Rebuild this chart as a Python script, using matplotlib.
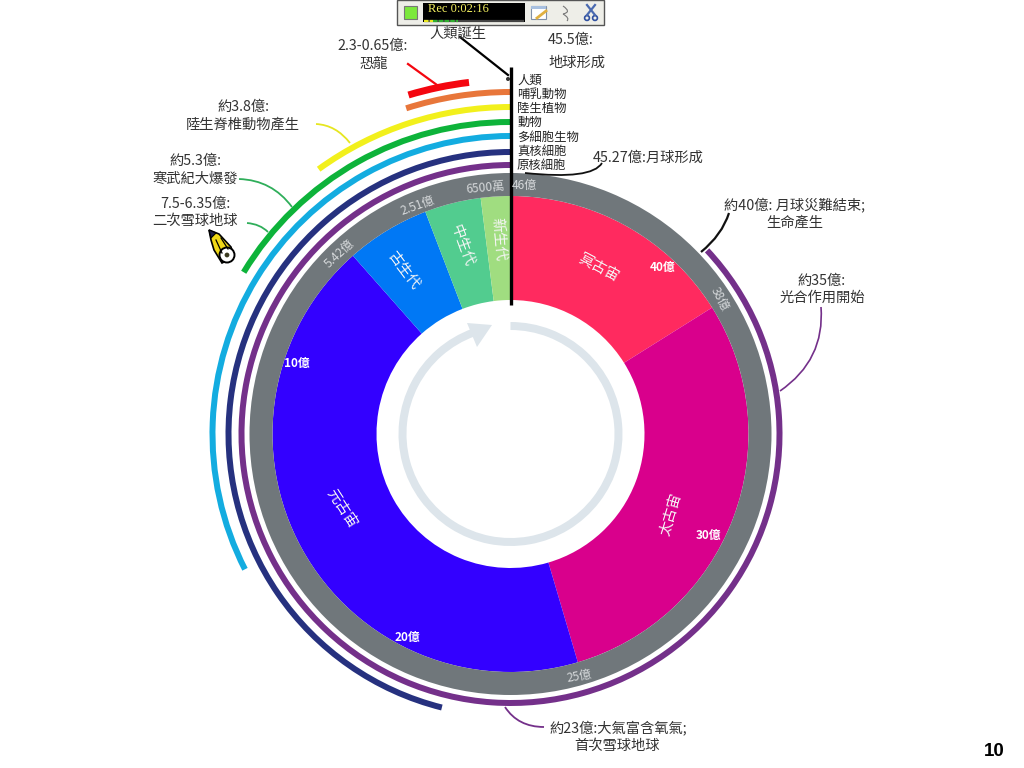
import numpy as np
import matplotlib
matplotlib.use("Agg")
import matplotlib.pyplot as plt
from matplotlib.path import Path
from matplotlib.patches import PathPatch, Polygon, Circle, Rectangle

plt.rcParams["font.family"] = ["Noto Sans CJK TC", "DejaVu Sans"]

TOTAL = 46.0  # the dial runs 46 -> 0 (100 million years ago)

# Eras
era_names = ["冥古宙", "太古宙", "元古宙", "古生代", "中生代", "新生代"]
era_start = [46.0, 38.6, 25.1, 5.3, 2.68, 0.92]
era_end = [38.6, 25.1, 5.3, 2.68, 0.92, 0.0]
era_colors = ["#FF2A5F", "#D9008C", "#3300FF", "#0078F5", "#52CC8F", "#A0DD80"]

# Life arcs, outside the grey ring
life_names = ["人類", "哺乳動物", "陸生植物", "動物", "多細胞生物", "真核細胞", "原核細胞"]
arc_start = [2.27, 4.59, 7.51, 14.95, 21.2, 40.0]
arc_end = [0.0, 0.0, 0.0, 0.0, 0.0, 0.0]
arc_radius = [342, 327, 312, 298, 282, 269]
arc_colors = ["#E8763A", "#F2F01C", "#0DB33A", "#13ACE0", "#26317F", "#74308A"]

# Dinosaurs
dino_start = 2.14
dino_end = 0.86

# Text on the ring and on the wedges
ring_labels = ["46億", "6500萬", "2.51億", "5.42億", "38億", "25億"]
ring_x = [524, 485, 418, 340, 720, 579]
ring_y = [185, 188, 206, 254, 299, 676]
ring_rot = [0, 5, 20, 43, -62, 10]
age_labels = ["40億", "30億", "20億", "10億"]
age_x = [663, 708, 407, 297]
age_y = [268, 535, 637, 364]
era_x = [598, 672, 342, 403, 462, 498]
era_y = [269, 514, 509, 271, 246, 239]
era_rot = [-28, 73, -57, -53, -70, -85]

# Event notes
notes = [
    "2.3-0.65億:", "恐龍", "人類誕生", "45.5億:", "地球形成",
    "約3.8億:", "陸生脊椎動物產生", "約5.3億:", "寒武紀大爆發",
    "7.5-6.35億:", "二次雪球地球", "45.27億:月球形成",
    "約40億: 月球災難結束;", "生命產生", "約35億:", "光合作用開始",
    "約23億:大氣富含氧氣;", "首次雪球地球",
]
note_x = [373, 374, 458, 571, 577, 243, 243, 195, 195, 195, 195, 648, 795, 795, 822, 822, 618, 617]
note_y = [46, 64, 34, 40, 63, 107, 124, 161, 179, 204, 221, 158, 205, 223, 281, 298, 728, 746]


def to_theta(age):
    return (TOTAL - np.asarray(age)) / TOTAL * 2 * np.pi


def arc(ax, start, end, r, w, color):
    ax.bar(to_theta(start), w, width=to_theta(end) - to_theta(start), bottom=r - w / 2,
           align="edge", color=color, linewidth=0)


fig = plt.figure(figsize=(10.24, 7.68), dpi=100, facecolor="white")

# polar axes scaled so that one radial unit is one pixel, centre (510.5, 434)
ax = fig.add_axes([110.5 / 1024, (768 - 434 - 400) / 768, 800 / 1024, 800 / 768], projection="polar")
ax.set_theta_zero_location("N")
ax.set_theta_direction(-1)
ax.set_ylim(0, 400)
ax.axis("off")

for i in range(len(era_names)):
    arc(ax, era_start[i], era_end[i], 186, 104, era_colors[i])
arc(ax, 46, 0, 249.5, 23, "#70777B")
for i in range(len(arc_start)):
    arc(ax, arc_start[i], arc_end[i], arc_radius[i], 6, arc_colors[i])
arc(ax, dino_start, dino_end, 354, 7, "#F4060F")

# turning arrow in the hole
ax.bar(np.radians(0), 8, width=np.radians(340), bottom=104, align="edge", color="#DDE5EB", linewidth=0)

# pixel overlay for text and leaders
ov = fig.add_axes([0, 0, 1, 1])
ov.set_xlim(0, 1024)
ov.set_ylim(768, 0)
ov.axis("off")
ov.patch.set_alpha(0)

ov.add_patch(Polygon([[492, 325], [467, 323], [477, 347]], color="#DDE5EB", lw=0))


def leader(p0, ctrl, p1, color, lw):
    ov.add_patch(PathPatch(Path([p0, ctrl, p1], [Path.MOVETO, Path.CURVE3, Path.CURVE3]),
                           fc="none", ec=color, lw=lw))


ov.plot([510.5, 510.5], [67, 305], color="black", lw=2.4, solid_capstyle="butt")
ov.plot([460, 508], [37, 75], color="black", lw=1.6)
ov.add_patch(Circle((508, 79), 2, color="#333333", lw=0))
ov.plot([408, 437], [64, 85], color="#F4060F", lw=1.6)
leader((316, 124), (336, 125), (350, 143), "#E6E620", 1.3)
leader((239, 179), (272, 180), (292, 207), "#2FAE5A", 1.3)
leader((247, 223), (260, 224), (268, 232), "#2FAE5A", 1.3)
leader((525, 173), (592, 180), (602, 163), "#111111", 1.3)
leader((729, 213), (722, 235), (701, 252), "#111111", 1.6)
leader((821, 307), (825, 360), (780, 391), "#74308A", 1.2)
leader((505, 707), (518, 727), (544, 727), "#74308A", 1.3)

for i in range(len(life_names)):
    ov.text(517, 80 + i * 14.3, life_names[i], fontsize=8.9, color="#222222", ha="left", va="center")

for i in range(len(notes)):
    ov.text(note_x[i], note_y[i], notes[i], fontsize=10.3, color="#333333", ha="center", va="center")

for i in range(len(ring_labels)):
    ov.text(ring_x[i], ring_y[i], ring_labels[i], fontsize=8.7, color="#D5D8DA", ha="center",
            va="center", rotation=ring_rot[i], rotation_mode="anchor")
for i in range(len(age_labels)):
    ov.text(age_x[i], age_y[i], age_labels[i], fontsize=8.5, color="white", fontweight="bold",
            ha="center", va="center")
for i in range(len(era_names)):
    ov.text(era_x[i], era_y[i], era_names[i], fontsize=10.5, color="#F5F5F5", ha="center",
            va="center", rotation=era_rot[i], rotation_mode="anchor")

ov.text(994, 751, "10", fontsize=13.5, fontweight="bold", family="Liberation Sans", color="black",
        ha="center", va="center")

# pencil cursor
ov.add_patch(Polygon([[209, 230], [219, 234], [231, 247], [234, 257], [222, 263], [214, 250], [211, 240]],
                     fc="#F0D818", ec="black", lw=1.2))
ov.add_patch(Polygon([[209, 230], [211, 238], [216, 233]], fc="#202048", ec="black", lw=0.8))
ov.plot([216, 222], [240, 253], color="black", lw=0.9)
ov.plot([221, 228], [238, 249], color="black", lw=0.9)
ov.add_patch(Circle((227, 255), 7.5, fc="white", ec="black", lw=1.4))
ov.add_patch(Circle((227, 255), 2.4, fc="#3A3A20", lw=0))

# recorder toolbar
ov.add_patch(Rectangle((397, 0), 207, 25, fc="#EEEEE8", ec="#555555", lw=1))
ov.add_patch(Rectangle((404, 6), 13, 13, fc="#7CE83C", ec="#777777", lw=0.8))
ov.add_patch(Rectangle((423, 3), 102, 19, fc="black", lw=0))
ov.text(428, 9, "Rec 0:02:16", fontsize=9, color="#F4F060", family="Liberation Serif",
        ha="left", va="center")
ov.plot([424, 524], [20.5, 20.5], color="#444444", lw=1.6, solid_capstyle="butt")
ov.plot([424, 433], [20.5, 20.5], color="#E8E820", lw=1.6, ls=(0, (2, 0.6)))
ov.plot([433, 458], [20.5, 20.5], color="#30B030", lw=1.6, ls=(0, (2, 0.6)))
ov.add_patch(Rectangle((531, 6), 15, 13, fc="white", ec="#8090A8", lw=0.8))
ov.add_patch(Rectangle((531, 6), 15, 3, fc="#A8C0E0", lw=0))
ov.plot([537, 546], [18, 11], color="#E0B040", lw=2)
leader((563, 6), (572, 12), (563, 14), "#777777", 0.8)
leader((563, 14), (570, 18), (567, 21), "#777777", 0.8)
ov.plot([587, 595], [5, 15], color="#4A6AB0", lw=1.6)
ov.plot([595, 587], [5, 15], color="#4A6AB0", lw=1.6)
ov.add_patch(Circle((587, 18), 2.4, fc="none", ec="#3050A0", lw=1.2))
ov.add_patch(Circle((595, 18), 2.4, fc="none", ec="#3050A0", lw=1.2))

fig.savefig("out.png", dpi=100)
